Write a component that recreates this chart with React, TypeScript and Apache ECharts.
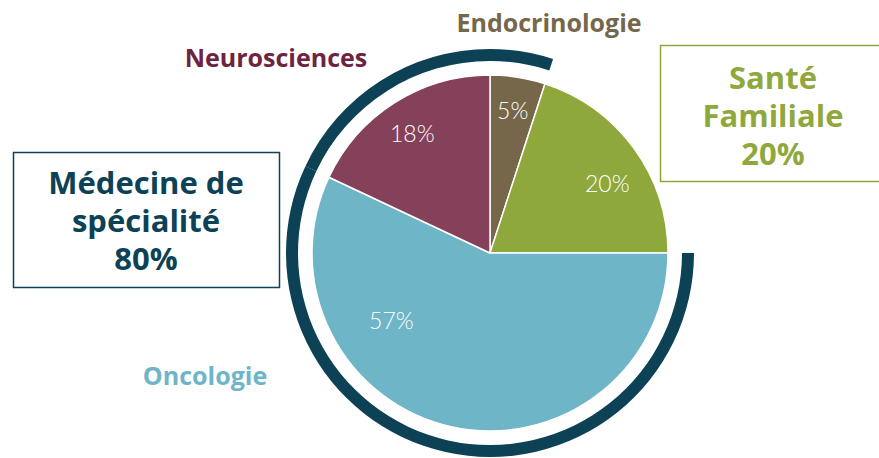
import React, { useEffect, useRef } from "react";
import * as echarts from "echarts";

const categories = ["Endocrinologie", "Santé Familiale", "Oncologie", "Neurosciences"];
const values = [5, 20, 57, 18];
const sliceColors = ["#76664a", "#8fa83c", "#6eb5c8", "#85405a"];
const specialtyFlags = [true, false, true, true];
const specialtyTitle = ["Médecine de", "spécialité"];
const familyTitle = ["Santé", "Familiale"];

const NAVY = "#0d4256";
const GREEN = "#8fa83c";
const FONT = "Lato, 'Open Sans', sans-serif";
const BOLD = "'Open Sans', Lato, sans-serif";

export default function App() {
  const ref = useRef<HTMLDivElement>(null);
  useEffect(() => {
    if (!ref.current) return;
    const chart = echarts.init(ref.current, null, { renderer: "svg" });
    const specialtyTotal = values.reduce((s, v, i) => s + (specialtyFlags[i] ? v : 0), 0);
    const familyTotal = values.reduce((s, v, i) => s + (specialtyFlags[i] ? 0 : v), 0);
    const center = [490, 253];
    chart.setOption({
      animation: false,
      backgroundColor: "#ffffff",
      series: [
        {
          type: "pie",
          center,
          radius: [0, 178],
          startAngle: 90,
          clockwise: true,
          silent: true,
          label: { show: false },
          labelLine: { show: false },
          itemStyle: { borderColor: "#ffffff", borderWidth: 1.5 },
          data: categories.map((c, i) => ({
            name: c,
            value: values[i],
            itemStyle: { color: sliceColors[i] },
          })),
        },
        {
          type: "pie",
          center,
          radius: [0, 284],
          startAngle: 90,
          clockwise: true,
          silent: true,
          z: 3,
          label: {
            show: true,
            position: "inside",
            formatter: (p: any) => p.value + "%",
            color: "#ffffff",
            fontFamily: FONT,
            fontWeight: 300,
            fontSize: 23,
          },
          labelLine: { show: false },
          labelLayout: (p: any) =>
            p.dataIndex === 2
              ? { dx: -67, dy: -75 }
              : p.dataIndex === 1
              ? { dx: 0, dy: 15 }
              : p.dataIndex === 3
              ? { dx: 0, dy: 2 }
              : {},
          itemStyle: { color: "rgba(0,0,0,0)" },
          data: categories.map((c, i) => ({ name: c, value: values[i] })),
        },
        {
          type: "pie",
          center,
          radius: [192, 204],
          startAngle: 90,
          clockwise: true,
          silent: true,
          label: { show: false },
          labelLine: { show: false },
          data: categories.map((c, i) => ({
            name: c,
            value: values[i],
            itemStyle: { color: specialtyFlags[i] ? NAVY : "rgba(0,0,0,0)" },
          })),
        },
      ],
      graphic: [
        {
          type: "text",
          x: 549,
          y: 22,
          style: {
            text: categories[0],
            fill: "#76664a",
            font: `bold 25px ${BOLD}`,
            align: "center",
            verticalAlign: "middle",
          },
        },
        {
          type: "text",
          x: 276,
          y: 57,
          style: {
            text: categories[3],
            fill: "#6e2341",
            font: `bold 25px ${BOLD}`,
            align: "center",
            verticalAlign: "middle",
          },
        },
        {
          type: "text",
          x: 205,
          y: 375,
          style: {
            text: categories[2],
            fill: "#6eb5c8",
            font: `bold 25px ${BOLD}`,
            align: "center",
            verticalAlign: "middle",
          },
        },
        {
          type: "rect",
          shape: { x: 13.5, y: 152.5, width: 266, height: 135 },
          style: { fill: "none", stroke: NAVY, lineWidth: 1.5 },
        },
        {
          type: "text",
          x: 146,
          y: 220,
          style: {
            text: `${specialtyTitle[0]}\n${specialtyTitle[1]}\n${specialtyTotal}%`,
            fill: NAVY,
            font: `bold 31px ${BOLD}`,
            lineHeight: 38,
            align: "center",
            verticalAlign: "middle",
          },
        },
        {
          type: "rect",
          shape: { x: 660.5, y: 45.5, width: 230, height: 136 },
          style: { fill: "none", stroke: GREEN, lineWidth: 1.5 },
        },
        {
          type: "text",
          x: 773,
          y: 115,
          style: {
            text: `${familyTitle[0]}\n${familyTitle[1]}\n${familyTotal}%`,
            fill: GREEN,
            font: `bold 31px ${BOLD}`,
            lineHeight: 38,
            align: "center",
            verticalAlign: "middle",
          },
        },
      ],
    });
    return () => chart.dispose();
  }, []);
  return (
    <div
      ref={ref}
      style={{ position: "fixed", left: 0, top: 0, width: 879, height: 458 }}
    />
  );
}
